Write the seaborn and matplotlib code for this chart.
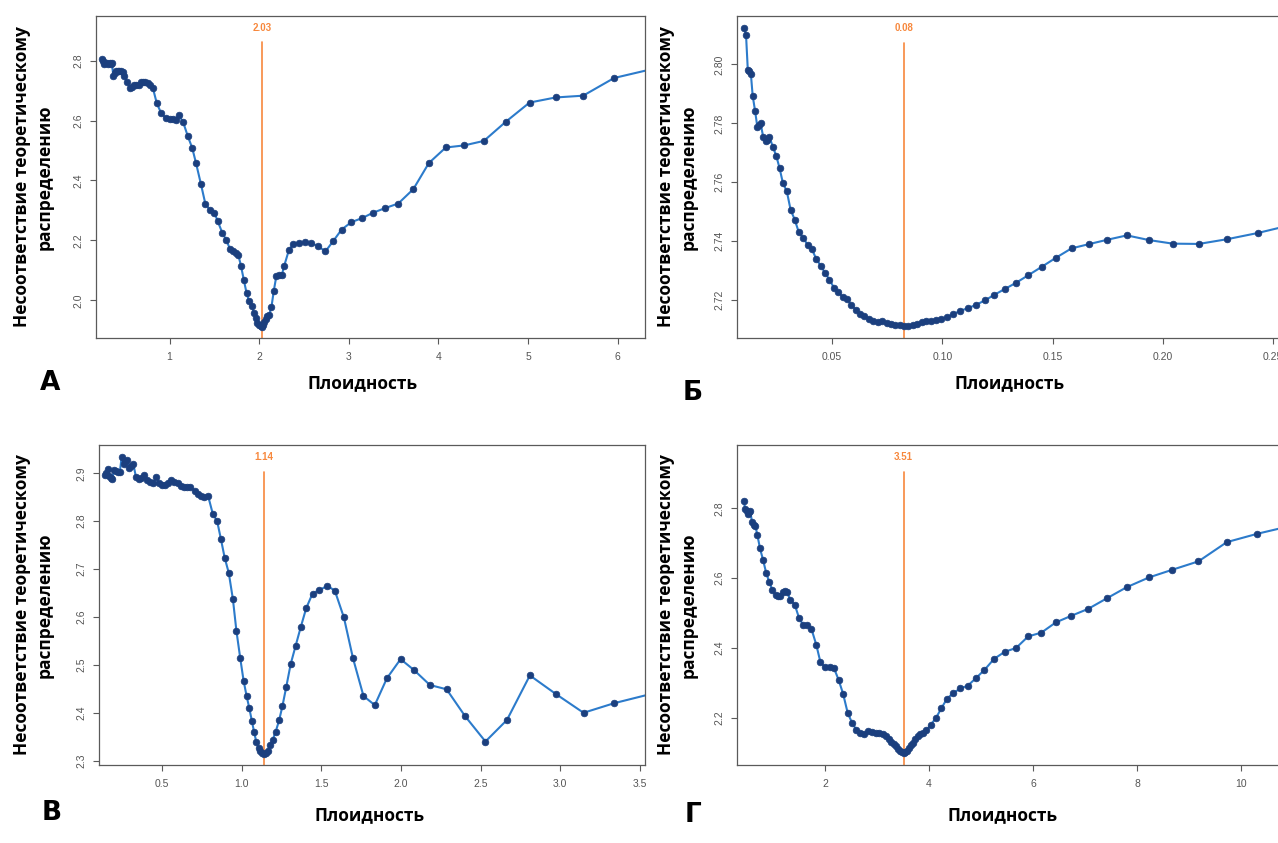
import numpy as np
import pandas as pd
import seaborn as sns
import matplotlib.pyplot as plt

# Panel A
x_a = [0.242, 0.255, 0.272, 0.284, 0.297, 0.314, 0.331, 0.343, 0.356, 0.373,
       0.389, 0.406, 0.423, 0.440, 0.457, 0.478, 0.495, 0.524, 0.562, 0.579,
       0.604, 0.629, 0.655, 0.680, 0.705, 0.730, 0.756, 0.781, 0.815, 0.857,
       0.907, 0.958, 1.000, 1.042, 1.067, 1.101, 1.152, 1.202, 1.253, 1.295,
       1.349, 1.400, 1.451, 1.501, 1.539, 1.589, 1.632, 1.674, 1.707, 1.737,
       1.766, 1.796, 1.829, 1.859, 1.888, 1.918, 1.943, 1.960, 1.977, 1.998,
       2.015, 2.028, 2.040, 2.057, 2.074, 2.091, 2.112, 2.137, 2.162, 2.192,
       2.221, 2.251, 2.280, 2.331, 2.381, 2.440, 2.507, 2.575, 2.655, 2.739,
       2.827, 2.920, 3.029, 3.147, 3.269, 3.408, 3.552, 3.720, 3.893, 4.082,
       4.288, 4.507, 4.752, 5.017, 5.307, 5.615, 5.960, 6.700]
y_a = [2.804, 2.800, 2.789, 2.793, 2.791, 2.789, 2.791, 2.789, 2.791, 2.749,
       2.758, 2.766, 2.767, 2.766, 2.767, 2.761, 2.749, 2.728, 2.707, 2.711,
       2.719, 2.718, 2.717, 2.727, 2.730, 2.727, 2.724, 2.720, 2.707, 2.658,
       2.624, 2.608, 2.604, 2.604, 2.602, 2.620, 2.594, 2.549, 2.508, 2.458,
       2.389, 2.321, 2.302, 2.291, 2.263, 2.224, 2.202, 2.171, 2.163, 2.158,
       2.152, 2.116, 2.067, 2.024, 1.996, 1.980, 1.956, 1.941, 1.924, 1.917,
       1.915, 1.912, 1.919, 1.927, 1.938, 1.947, 1.952, 1.978, 2.030, 2.082,
       2.083, 2.083, 2.116, 2.167, 2.188, 2.191, 2.193, 2.191, 2.181, 2.163,
       2.198, 2.236, 2.261, 2.274, 2.292, 2.308, 2.323, 2.371, 2.458, 2.510,
       2.517, 2.532, 2.596, 2.660, 2.677, 2.683, 2.742, 2.794]

# Panel B
x_b = [0.0101, 0.0110, 0.0118, 0.0125, 0.0132, 0.0140, 0.0151, 0.0161, 0.0170, 0.0176,
       0.0188, 0.0199, 0.0207, 0.0216, 0.0231, 0.0247, 0.0262, 0.0277, 0.0295, 0.0312,
       0.0331, 0.0349, 0.0370, 0.0389, 0.0408, 0.0428, 0.0449, 0.0468, 0.0488, 0.0509,
       0.0529, 0.0548, 0.0567, 0.0587, 0.0608, 0.0628, 0.0647, 0.0666, 0.0687, 0.0707,
       0.0728, 0.0747, 0.0767, 0.0786, 0.0807, 0.0825, 0.0846, 0.0866, 0.0885, 0.0906,
       0.0926, 0.0949, 0.0971, 0.0995, 0.1022, 0.1050, 0.1081, 0.1115, 0.1152, 0.1194,
       0.1235, 0.1283, 0.1334, 0.1390, 0.1450, 0.1515, 0.1586, 0.1663, 0.1747, 0.1837,
       0.1938, 0.2045, 0.2163, 0.2291, 0.2430, 0.2580]
y_b = [2.8124, 2.8099, 2.7981, 2.7977, 2.7967, 2.7894, 2.7842, 2.7789, 2.7795, 2.7800,
       2.7753, 2.7741, 2.7744, 2.7755, 2.7721, 2.7690, 2.7648, 2.7598, 2.7569, 2.7507,
       2.7473, 2.7431, 2.7411, 2.7388, 2.7375, 2.7340, 2.7317, 2.7293, 2.7270, 2.7242,
       2.7228, 2.7211, 2.7205, 2.7184, 2.7168, 2.7155, 2.7148, 2.7137, 2.7130, 2.7127,
       2.7128, 2.7123, 2.7119, 2.7116, 2.7115, 2.7113, 2.7114, 2.7116, 2.7121, 2.7126,
       2.7128, 2.7130, 2.7132, 2.7137, 2.7144, 2.7153, 2.7164, 2.7173, 2.7184, 2.7200,
       2.7218, 2.7238, 2.7259, 2.7285, 2.7313, 2.7344, 2.7376, 2.7390, 2.7405, 2.7420,
       2.7404, 2.7392, 2.7391, 2.7407, 2.7428, 2.7455]

# Panel C
x_c = [0.140, 0.149, 0.159, 0.168, 0.178, 0.187, 0.199, 0.211, 0.223, 0.235,
       0.246, 0.258, 0.270, 0.282, 0.294, 0.306, 0.320, 0.336, 0.353, 0.370,
       0.386, 0.405, 0.424, 0.443, 0.462, 0.481, 0.500, 0.519, 0.538, 0.557,
       0.576, 0.600, 0.618, 0.637, 0.656, 0.675, 0.704, 0.727, 0.746, 0.765,
       0.789, 0.818, 0.846, 0.870, 0.893, 0.919, 0.945, 0.967, 0.991, 1.012,
       1.031, 1.047, 1.064, 1.078, 1.092, 1.107, 1.118, 1.130, 1.140, 1.152,
       1.164, 1.178, 1.194, 1.213, 1.235, 1.256, 1.280, 1.308, 1.339, 1.372,
       1.405, 1.445, 1.488, 1.538, 1.585, 1.642, 1.699, 1.765, 1.836, 1.912,
       1.998, 2.083, 2.182, 2.287, 2.403, 2.531, 2.666, 2.810, 2.974, 3.147,
       3.339, 3.555]
y_c = [2.896, 2.901, 2.908, 2.894, 2.891, 2.887, 2.907, 2.904, 2.903, 2.903,
       2.933, 2.919, 2.926, 2.928, 2.912, 2.915, 2.919, 2.892, 2.889, 2.891,
       2.896, 2.886, 2.881, 2.879, 2.892, 2.879, 2.876, 2.876, 2.879, 2.885,
       2.882, 2.880, 2.874, 2.872, 2.872, 2.872, 2.864, 2.857, 2.853, 2.851,
       2.853, 2.816, 2.800, 2.762, 2.724, 2.692, 2.637, 2.571, 2.514, 2.467,
       2.435, 2.411, 2.383, 2.360, 2.339, 2.326, 2.321, 2.317, 2.313, 2.316,
       2.321, 2.332, 2.343, 2.360, 2.384, 2.414, 2.454, 2.502, 2.540, 2.580,
       2.618, 2.649, 2.656, 2.665, 2.655, 2.599, 2.514, 2.435, 2.416, 2.472,
       2.512, 2.489, 2.458, 2.449, 2.393, 2.340, 2.385, 2.478, 2.439, 2.400,
       2.420, 2.438]

# Panel D
x_d = [0.439, 0.468, 0.497, 0.519, 0.541, 0.563, 0.599, 0.635, 0.664, 0.701,
       0.751, 0.810, 0.868, 0.926, 0.991, 1.049, 1.093, 1.136, 1.187, 1.231,
       1.274, 1.332, 1.419, 1.499, 1.579, 1.659, 1.739, 1.833, 1.913, 2.000,
       2.087, 2.174, 2.261, 2.348, 2.435, 2.522, 2.602, 2.675, 2.749, 2.827,
       2.900, 2.973, 3.045, 3.111, 3.169, 3.227, 3.278, 3.321, 3.365, 3.401,
       3.437, 3.474, 3.510, 3.539, 3.575, 3.612, 3.648, 3.684, 3.728, 3.779,
       3.829, 3.887, 3.946, 4.033, 4.134, 4.236, 4.345, 4.468, 4.599, 4.744,
       4.897, 5.064, 5.252, 5.455, 5.673, 5.905, 6.160, 6.435, 6.733, 7.060,
       7.416, 7.800, 8.229, 8.678, 9.179, 9.724, 10.312, 10.940]
y_d = [2.820, 2.798, 2.793, 2.784, 2.788, 2.791, 2.760, 2.752, 2.748, 2.723,
       2.685, 2.652, 2.616, 2.590, 2.565, 2.552, 2.549, 2.550, 2.560, 2.562,
       2.559, 2.538, 2.524, 2.487, 2.466, 2.466, 2.455, 2.409, 2.359, 2.345,
       2.345, 2.342, 2.309, 2.269, 2.215, 2.185, 2.166, 2.156, 2.154, 2.163,
       2.160, 2.158, 2.156, 2.153, 2.147, 2.140, 2.132, 2.125, 2.118, 2.110,
       2.105, 2.101, 2.099, 2.101, 2.106, 2.113, 2.121, 2.129, 2.139, 2.148,
       2.154, 2.158, 2.164, 2.180, 2.200, 2.227, 2.255, 2.271, 2.284, 2.292,
       2.313, 2.337, 2.369, 2.389, 2.400, 2.433, 2.444, 2.473, 2.492, 2.512,
       2.542, 2.574, 2.602, 2.624, 2.648, 2.703, 2.727, 2.749]

panel_letters = ["А", "Б", "В", "Г"]
x_title = "Плоидность"
y_title = "Несоответствие теоретическому\nраспределению"

LINE = "#2C7BCB"
DOT = "#1B3F7E"
ORANGE = "#F7883D"
GREY = "#5a5a5a"

sns.set_style("white")
plt.rcParams['font.family'] = ['Open Sans', 'DejaVu Sans']
plt.rcParams['text.color'] = 'black'

W, H = 1278, 843
fig = plt.figure(figsize=(W / 100, H / 100), dpi=100)


def add_axes(left, top, right, bottom):
    return fig.add_axes([left / W, 1 - bottom / H, (right - left) / W, (bottom - top) / H])


def draw_panel(ax, x, y, xlim, ylim, xticks, xfmt, yticks, yfmt, line_top, text_y):
    df = pd.DataFrame({"ploidy": x, "score": y})
    sns.lineplot(data=df, x="ploidy", y="score", ax=ax, estimator=None, sort=False,
                 color=LINE, linewidth=1.5, marker="o", markersize=4.8,
                 markerfacecolor=DOT, markeredgecolor=DOT, markeredgewidth=0.5)
    # best ploidy = minimum of the curve
    best = df.loc[df["score"].idxmin(), "ploidy"]
    ax.plot([best, best], [ylim[0] - 1, line_top], color=ORANGE, linewidth=1.2, zorder=1)
    ax.text(best, text_y, f"{best:.2f}", color=ORANGE, fontsize=7, fontweight="bold",
            ha="center", va="center", family=["Liberation Sans", "DejaVu Sans"])
    ax.set_xlim(xlim)
    ax.set_ylim(ylim)
    ax.set_xticks(xticks)
    ax.set_xticklabels([xfmt.format(v) for v in xticks])
    ax.set_yticks(yticks)
    ax.set_yticklabels([yfmt.format(v) for v in yticks], rotation=90, va="center")
    ax.set_xlabel("")
    ax.set_ylabel("")
    for s in ax.spines.values():
        s.set_color(GREY)
        s.set_linewidth(0.9)
        s.set_visible(True)
    ax.tick_params(axis="both", direction="out", length=4, width=0.8, color=GREY,
                   labelsize=7.5, labelcolor="#555555", bottom=True, left=True)
    ax.tick_params(axis="x", pad=6)
    ax.tick_params(axis="y", pad=5)
    for lab in ax.get_xticklabels() + ax.get_yticklabels():
        lab.set_family(["Liberation Sans", "DejaVu Sans"])


ax_a = add_axes(96, 16, 645, 338)
draw_panel(ax_a, x_a, y_a, (0.179, 6.305), (1.874, 2.949),
           [1, 2, 3, 4, 5, 6], "{:.0f}", [2.0, 2.2, 2.4, 2.6, 2.8], "{:.1f}", 2.862, 2.908)

ax_b = add_axes(737, 16, 1300, 338)
draw_panel(ax_b, x_b, y_b, (0.0069, 0.2622), (2.7072, 2.8164),
           [0.05, 0.10, 0.15, 0.20, 0.25], "{:.2f}", [2.72, 2.74, 2.76, 2.78, 2.80], "{:.2f}",
           2.8073, 2.8122)

ax_c = add_axes(99, 445, 645, 765)
draw_panel(ax_c, x_c, y_c, (0.104, 3.533), (2.291, 2.959),
           [0.5, 1.0, 1.5, 2.0, 2.5, 3.0, 3.5], "{:.1f}", [2.3, 2.4, 2.5, 2.6, 2.7, 2.8, 2.9], "{:.1f}",
           2.902, 2.933)

ax_d = add_axes(737, 445, 1300, 765)
draw_panel(ax_d, x_d, y_d, (0.309, 11.13), (2.065, 2.981),
           [2, 4, 6, 8, 10], "{:.0f}", [2.2, 2.4, 2.6, 2.8], "{:.1f}", 2.905, 2.946)

# axis titles and panel letters
ylab_pos = [(33, 177), (677, 177), (33, 605), (677, 605)]
xlab_pos = [(363, 383), (1010, 383), (370, 815), (1003, 815)]
letter_pos = [(50, 383), (693, 393), (52, 813), (693, 815)]
for i in range(4):
    px, py = ylab_pos[i]
    fig.text(px / W, 1 - py / H, y_title, rotation=90, ha="center", va="center",
             multialignment="center", fontsize=12.5, fontweight="bold", linespacing=1.35,
             color="black")
    px, py = xlab_pos[i]
    fig.text(px / W, 1 - py / H, x_title, ha="center", va="center",
             fontsize=12.5, fontweight="bold", color="black")
    px, py = letter_pos[i]
    fig.text(px / W, 1 - py / H, panel_letters[i], ha="center", va="center",
             fontsize=19, fontweight="heavy", family=["DejaVu Sans"], color="black")

fig.savefig("out.png", dpi=100)
